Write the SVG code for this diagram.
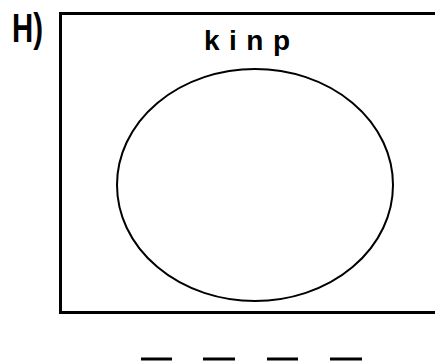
<svg xmlns="http://www.w3.org/2000/svg" width="435" height="363" viewBox="0 0 435 363">
<style>
.ln{fill:none;stroke:#000}
.lbl{font-family:"Liberation Sans",Arial,sans-serif;fill:#000}
</style>
<rect width="435" height="363" fill="#fff"/>
<g id="label-h"><text class="lbl" x="12" y="42" font-size="40" font-weight="bold" textLength="31" lengthAdjust="spacingAndGlyphs">H)</text></g>
<g id="frame"><path class="ln" stroke-width="3" d="M440,13.5 H60.5 V312.5 H440"/></g>
<g id="title"><text class="lbl" x="204" y="50" font-size="28" font-weight="bold" letter-spacing="9.5">kinp</text></g>
<g id="circle"><ellipse class="ln" stroke-width="2" cx="255" cy="185" rx="138" ry="116"/></g>
<g id="blanks" class="ln" stroke-width="3">
<line x1="141" y1="359" x2="172" y2="359"/>
<line x1="203" y1="359" x2="235" y2="359"/>
<line x1="267" y1="359" x2="298" y2="359"/>
<line x1="330" y1="359" x2="362" y2="359"/>
</g>
</svg>
